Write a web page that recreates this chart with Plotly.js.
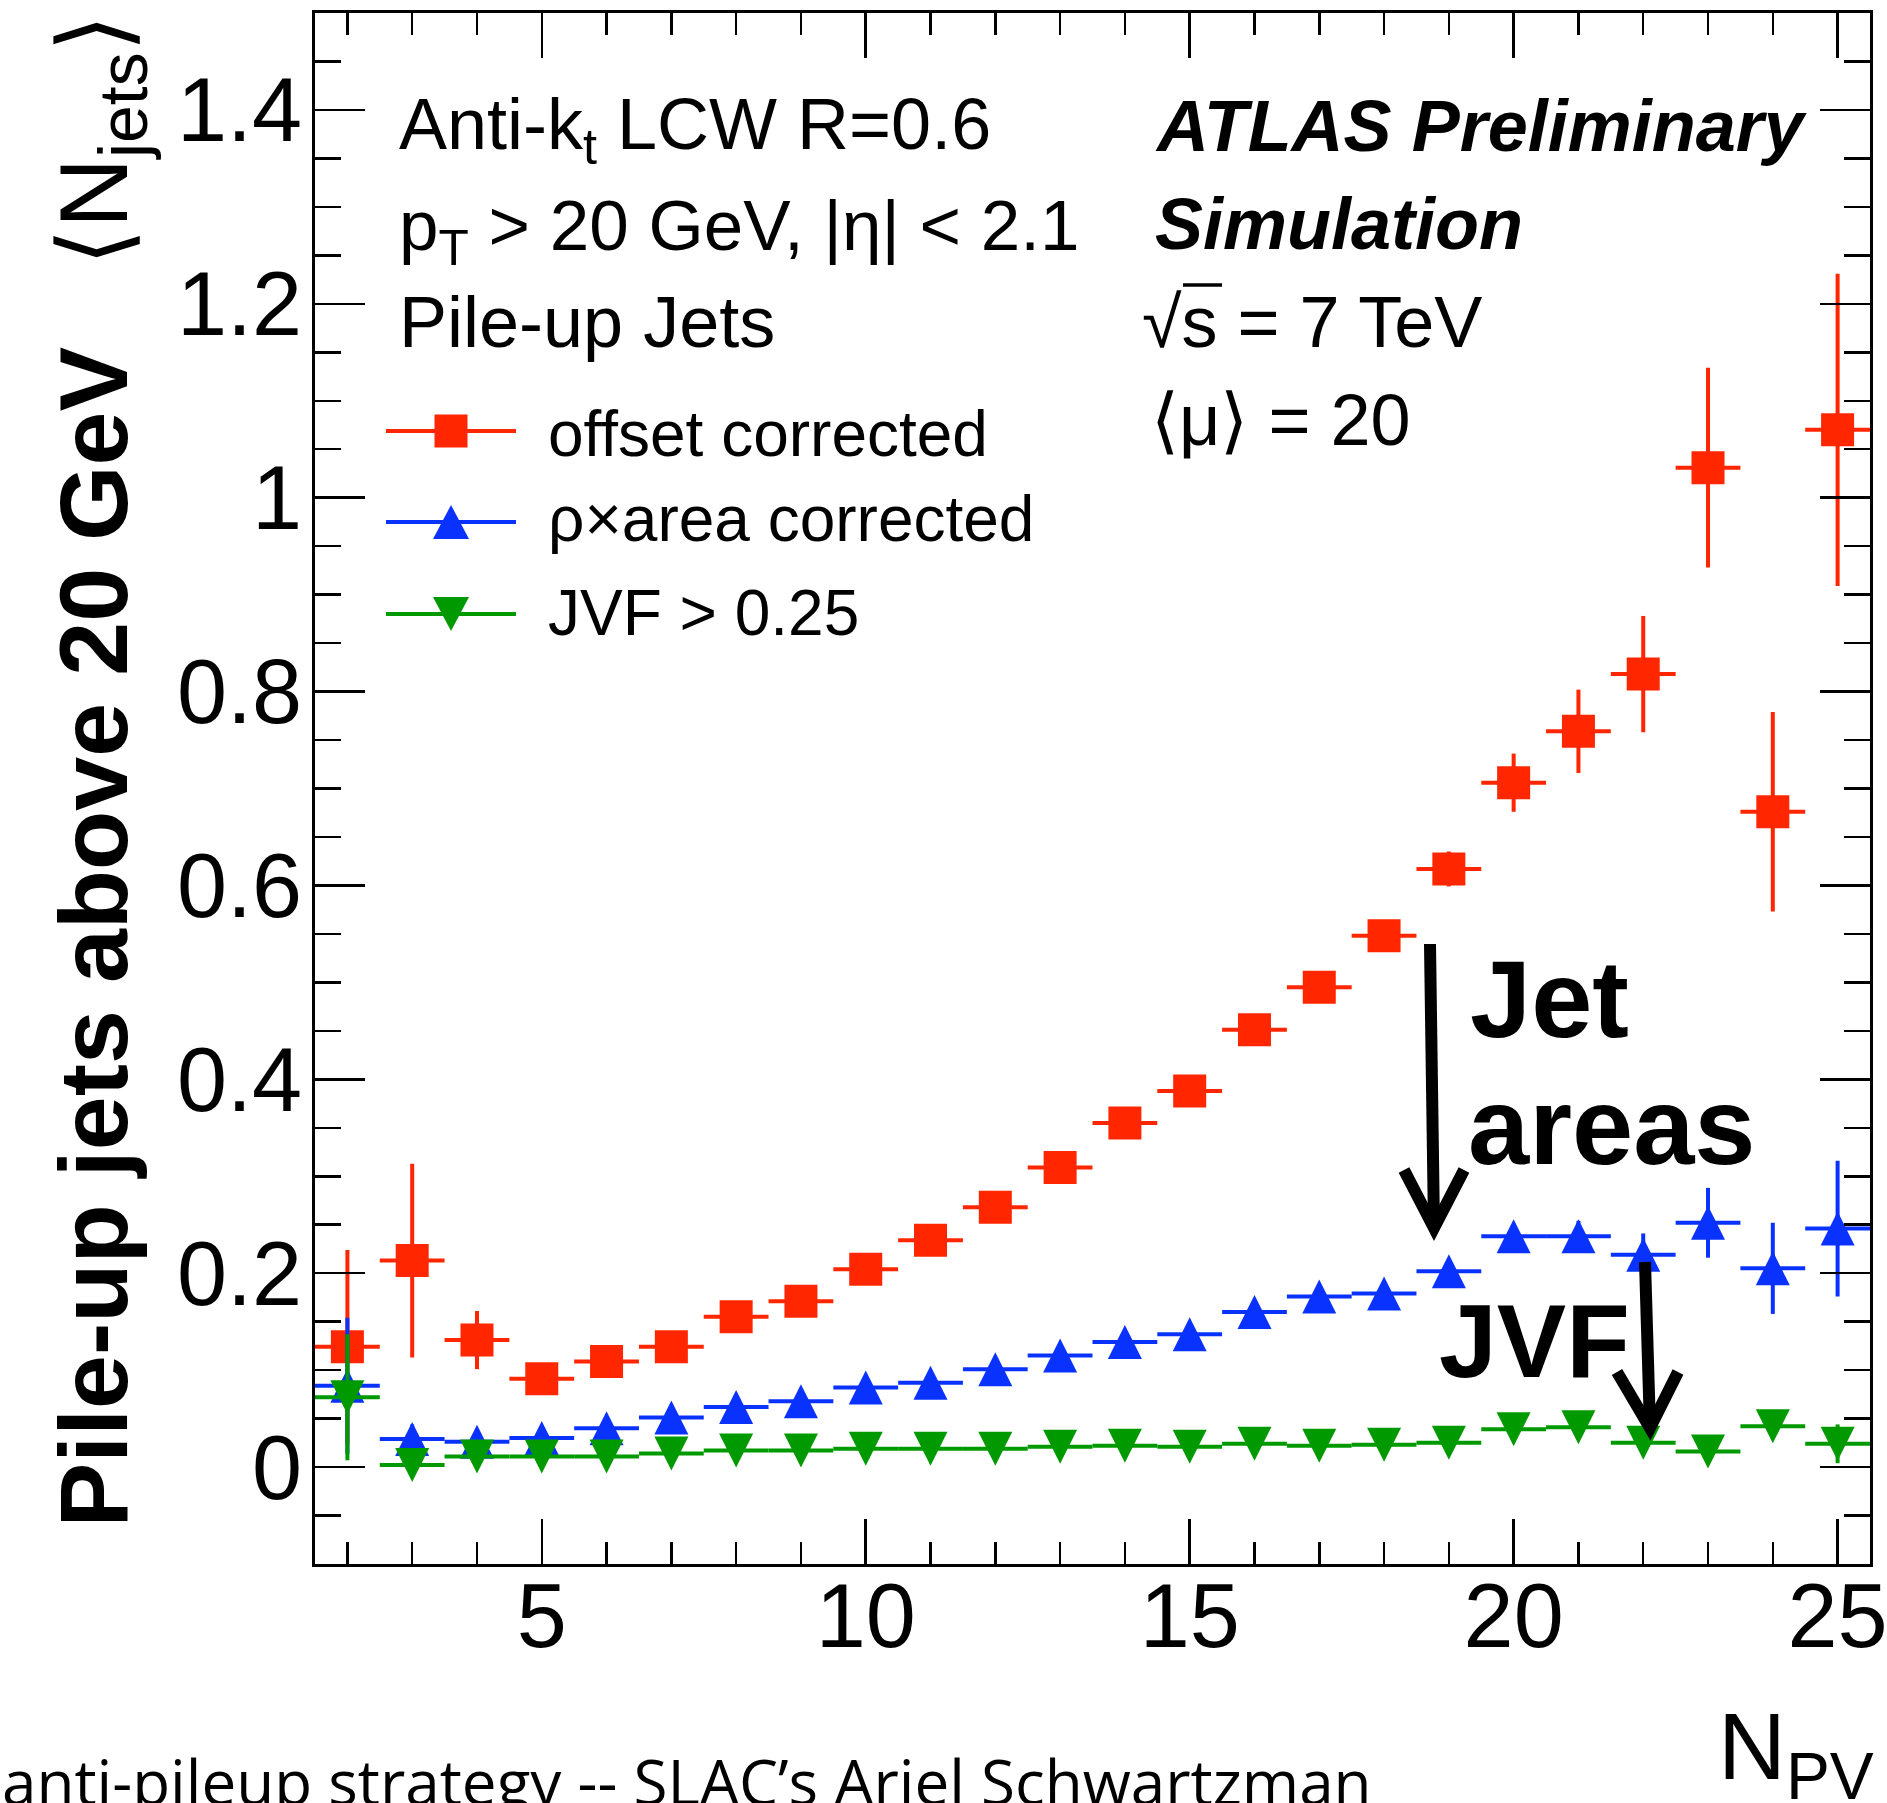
<!DOCTYPE html>
<html>
<head>
<meta charset="utf-8">
<script src="https://cdn.plot.ly/plotly-3.0.1.min.js"></script>
<style>html,body{margin:0;padding:0;background:#fff;}#chart{width:1887px;height:1803px;}</style>
</head>
<body>
<div id="chart"></div>
<script>
// ---- data (N_PV bins) ----
const npv = [2,3,4,5,6,7,8,9,10,11,12,13,14,15,16,17,18,19,20,21,22,23,24,25];
const offsetCorrected = [0.124,0.213,0.131,0.091,0.109,0.124,0.155,0.171,0.204,0.234,0.268,0.309,0.355,0.388,0.451,0.495,0.548,0.617,0.706,0.759,0.818,1.031,0.676,1.070];
const offsetErr = [0.100,0.100,0.030,0.012,0.010,0.010,0.010,0.010,0.010,0.010,0.010,0.010,0.010,0.012,0.012,0.013,0.015,0.018,0.030,0.043,0.060,0.103,0.103,0.161];
const rhoAreaCorrected = [0.084,0.029,0.026,0.030,0.040,0.051,0.062,0.068,0.082,0.087,0.101,0.115,0.129,0.137,0.160,0.176,0.179,0.202,0.238,0.238,0.219,0.252,0.205,0.246];
const rhoAreaErr = [0.070,0.015,0.006,0.006,0.006,0.006,0.006,0.006,0.006,0.006,0.006,0.007,0.007,0.007,0.008,0.008,0.009,0.010,0.012,0.016,0.022,0.036,0.047,0.070];
const jvfCut = [0.072,0.002,0.011,0.011,0.011,0.014,0.017,0.017,0.019,0.019,0.019,0.021,0.022,0.021,0.024,0.022,0.023,0.025,0.039,0.041,0.025,0.016,0.042,0.024];
const jvfErr = [0.065,0.004,0.004,0.004,0.004,0.004,0.004,0.004,0.004,0.004,0.004,0.004,0.004,0.004,0.004,0.005,0.005,0.005,0.006,0.006,0.008,0.008,0.010,0.020];
const binHalfWidth = 0.5;
const seriesNames = ["offset corrected", "\u03C1\u00D7area corrected", "JVF > 0.25"];
const yTickVals = [0,0.2,0.4,0.6,0.8,1,1.2,1.4];
const yTickText = ["0","0.2","0.4","0.6","0.8","1","1.2","1.4"];
const xTickVals = [5,10,15,20,25];

// ---- style ----
const RED = "#ff2600", BLUE = "#0a32ff", GREEN = "#009a00";
const FONT = "Liberation Sans, Arial, Helvetica, sans-serif";

// page-pixel -> paper helpers for decorations
const L = 315, R = 1870, T = 13, B = 1564;
const px = x => (x - L) / (R - L);
const py = y => (B - y) / (B - T);

function series(y, err, color, name, marker) {
  return {
    type: "scatter", mode: "markers", name: name,
    x: npv, y: y,
    error_y: {type: "data", array: err, visible: true, color: color, thickness: 4, width: 0},
    error_x: {type: "constant", value: binHalfWidth, visible: true, color: color, thickness: 4, width: 0},
    marker: Object.assign({color: color, line: {width: 0}}, marker),
    cliponaxis: false,
    showlegend: false
  };
}

const traces = [
  series(offsetCorrected, offsetErr, RED, seriesNames[0], {symbol: "square", size: 33}),
  series(rhoAreaCorrected, rhoAreaErr, BLUE, seriesNames[1], {symbol: "arrow-down", angle: 180, standoff: 17, size: 34}),
  series(jvfCut, jvfErr, GREEN, seriesNames[2], {symbol: "arrow-down", angle: 0, standoff: 17, size: 34})
];

function txt(text, x, yTop, size, extra) {
  return Object.assign({
    text: text, xref: "paper", yref: "paper", x: px(x), y: py(yTop),
    xanchor: "left", yanchor: "top", showarrow: false,
    font: {family: FONT, size: size, color: "#000"}
  }, extra || {});
}

const NB = "\u00A0";
const annotations = [
  txt("Anti-k<sub>t</sub> LCW R=0.6", 397, 82, 72),
  txt("p<sub>T</sub> &gt; 20 GeV, |\u03B7| &lt; 2.1", 397, 184, 71),
  txt("Pile-up Jets", 397, 280, 72),
  txt("<b><i>ATLAS Preliminary</i></b>", 1153, 84, 72),
  txt("<b><i>Simulation</i></b>", 1153, 182, 72),
  txt("\u221As = 7 TeV", 1140, 280, 72),
  txt("\u27E8\u03BC\u27E9 = 20", 1149, 378, 72),
  txt(seriesNames[0], 546, 396, 64),
  txt(seriesNames[1].replace(">", "&gt;"), 546, 481, 64),
  txt(seriesNames[2].replace(">", "&gt;"), 546, 575, 64),
  txt("<b>Jet</b>", 1468, 935, 110),
  txt("<b>areas</b>", 1466, 1062, 110),
  txt("<b>JVF</b>", 1437, 1281, 104),
  txt("N<sub>PV</sub>", 1876, 1692, 94, {xanchor: "right"}),
  txt("anti-pileup strategy -- SLAC\u2019s Ariel Schwartzman", 0, 1737, 62, {font: {family: "Open Sans, sans-serif", size: 62, color: "#000"}}),
  {
    text: "<b>Pile-up jets above 20 GeV</b>" + NB + NB + NB + "\u27E8N<sub>jets</sub>\u27E9",
    xref: "paper", yref: "paper", x: px(99), y: py(1530),
    xanchor: "center", yanchor: "bottom", textangle: -90, showarrow: false,
    font: {family: FONT, size: 97, color: "#000"}
  }
];

const shapes = [];
// legend symbols
const legendRows = [
  {y: 431, color: RED, path: "M-16.5,-16.5H16.5V16.5H-16.5Z"},
  {y: 522, color: BLUE, path: "M0,17L18,-17L-18,-17Z"},
  {y: 614, color: GREEN, path: "M0,-17L18,17L-18,17Z"}
];
legendRows.forEach(r => {
  shapes.push({type: "line", xref: "paper", yref: "paper", x0: px(386), x1: px(516), y0: py(r.y), y1: py(r.y), line: {color: r.color, width: 4}});
  shapes.push({type: "path", xref: "paper", yref: "paper", xsizemode: "pixel", ysizemode: "pixel",
    xanchor: px(451), yanchor: py(r.y), path: r.path, fillcolor: r.color, line: {width: 0}});
});
// overline of the square root
shapes.push({type: "line", xref: "paper", yref: "paper", x0: px(1183), x1: px(1222), y0: py(285), y1: py(285), line: {color: "#000", width: 3.5}});
// annotation arrows
function arrow(x0, y0, x1, y1, wl, wr, wy, w) {
  shapes.push({type: "path", xref: "paper", yref: "paper",
    path: `M${px(x0)},${py(y0)}L${px(x1)},${py(y1)}`, line: {color: "#000", width: w}});
  shapes.push({type: "path", xref: "paper", yref: "paper",
    path: `M${px(wl)},${py(wy)}L${px(x1)},${py(y1)}L${px(wr)},${py(wy)}`, line: {color: "#000", width: w}});
}
arrow(1430, 944, 1434, 1228, 1404, 1464, 1170, 12);
arrow(1645, 1262, 1650, 1428, 1617, 1678, 1372, 12);

const axisCommon = {
  showline: true, linewidth: 3, linecolor: "#000", mirror: "ticks",
  ticks: "inside", tickwidth: 2.5, tickcolor: "#000",
  showgrid: false, zeroline: false, ticklabeloverflow: "allow",
  tickfont: {family: FONT, size: 90, color: "#000"}
};

const layout = {
  width: 1887, height: 1803, autosize: false,
  margin: {l: L, r: 1887 - R, t: T, b: 1803 - B, pad: 0},
  paper_bgcolor: "#fff", plot_bgcolor: "#fff",
  showlegend: false,
  xaxis: Object.assign({}, axisCommon, {
    range: [1.5, 25.5], tickmode: "array", tickvals: xTickVals, ticktext: xTickVals.map(String),
    ticklen: 45, ticklabelstandoff: -28,
    minor: {dtick: 1, tick0: 0, ticks: "inside", ticklen: 22, tickwidth: 2.5, tickcolor: "#000", showgrid: false}
  }),
  yaxis: Object.assign({}, axisCommon, {
    range: [-0.1, 1.5], tickmode: "array", tickvals: yTickVals, ticktext: yTickText,
    ticklen: 50, ticklabelstandoff: -8,
    minor: {dtick: 0.05, tick0: 0, ticks: "inside", ticklen: 26, tickwidth: 2.5, tickcolor: "#000", showgrid: false}
  }),
  annotations: annotations,
  shapes: shapes
};

Plotly.newPlot("chart", traces, layout, {displayModeBar: false, staticPlot: true});
</script>
</body>
</html>
